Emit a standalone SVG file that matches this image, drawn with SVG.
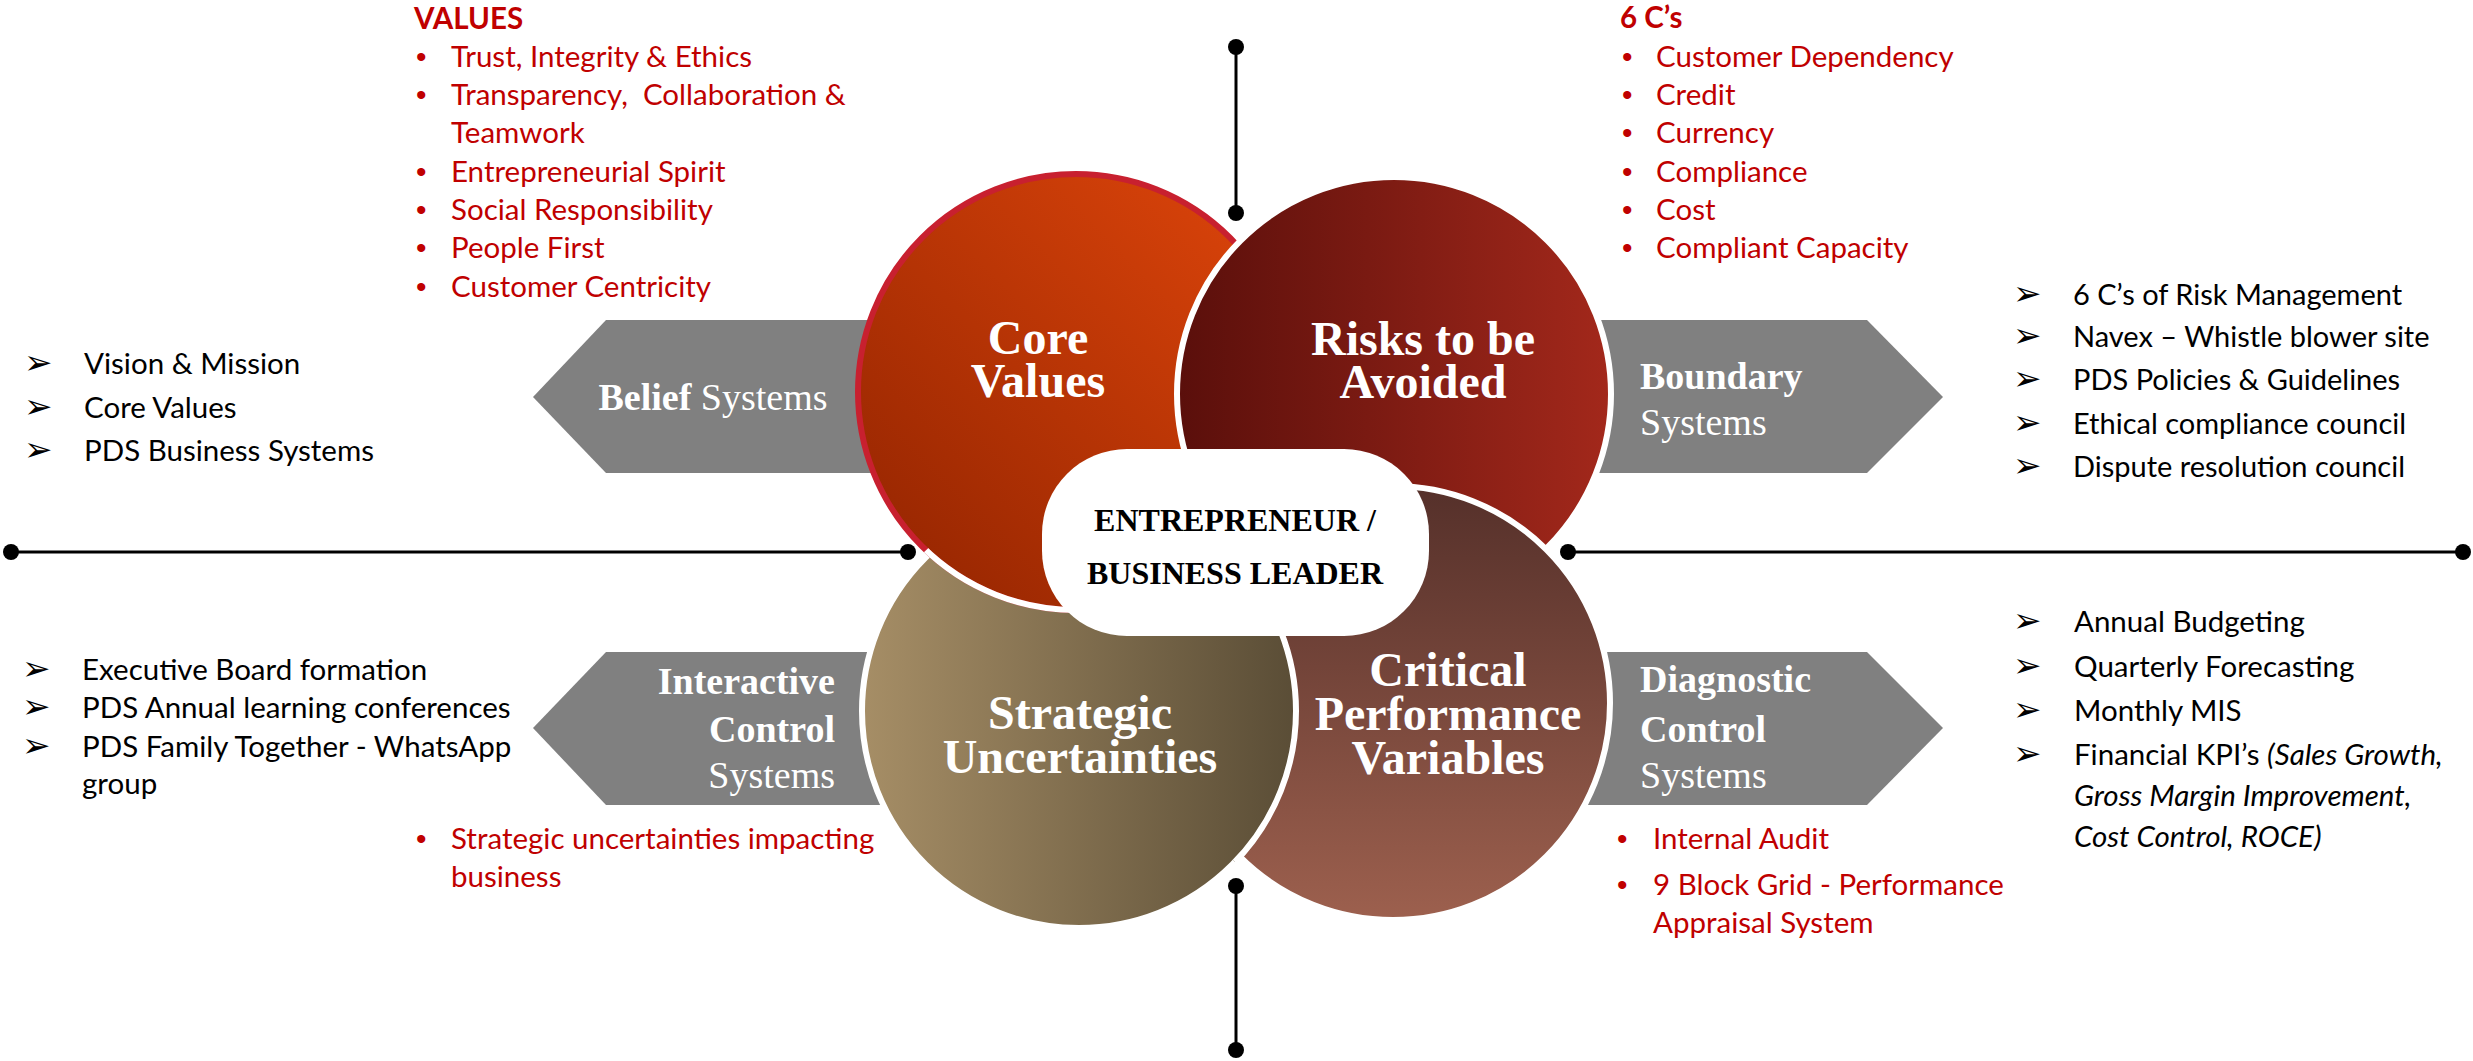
<svg xmlns="http://www.w3.org/2000/svg" width="2473" height="1061" viewBox="0 0 2473 1061">
<defs>
<style>
.list{font-family:Lato,"Liberation Sans",sans-serif;font-size:29.5px;fill:#000}
.blk{font-size:29px}
.red{fill:#c00000}
.bul{font-family:"DejaVu Sans",sans-serif;font-size:34px;fill:#000}
.dot{font-family:"Liberation Sans",sans-serif;font-size:30px;fill:#c00000}
.lbl{font-family:"Liberation Serif",serif;font-weight:bold;font-size:48px;fill:#fff;text-anchor:middle}
.arr{font-family:"Liberation Serif",serif;font-size:38px;fill:#fff}
.b{font-weight:bold}
.pilltxt{font-family:"Liberation Serif",serif;font-weight:bold;font-size:32px;fill:#000;text-anchor:middle}
.gray{fill:#808080}
.ring{stroke:#fff;stroke-width:6}
.axis{stroke:#000;stroke-width:3;fill:none}
.end{fill:#000}
</style>
<linearGradient id="gCore" x1="0" y1="1" x2="1" y2="0">
<stop offset="0" stop-color="#902300"/><stop offset="1" stop-color="#e0460b"/>
</linearGradient>
<linearGradient id="gRisk" x1="0" y1="0" x2="1" y2="0">
<stop offset="0" stop-color="#5a0f0b"/><stop offset="1" stop-color="#a3281b"/>
</linearGradient>
<linearGradient id="gStrat" x1="0" y1="0" x2="1" y2="0">
<stop offset="0" stop-color="#a68e66"/><stop offset="1" stop-color="#5a4d36"/>
</linearGradient>
<linearGradient id="gCrit" x1="0" y1="0" x2="0" y2="1">
<stop offset="0" stop-color="#55302a"/><stop offset="1" stop-color="#9d604e"/>
</linearGradient>
<clipPath id="inStrat"><circle cx="1079" cy="711" r="222"/></clipPath>
<clipPath id="inCrit"><circle cx="1393" cy="703" r="224"/></clipPath>
</defs>

<g id="belief-arrow"><polygon class="gray" points="533,397 606,320 960,320 960,473 606,473"/></g>
<g id="boundary-arrow"><polygon class="gray" points="1500,320 1867,320 1943,397 1867,473 1500,473"/></g>
<g id="interactive-arrow"><polygon class="gray" points="533,728 606,652 960,652 960,805 606,805"/></g>
<g id="diagnostic-arrow"><polygon class="gray" points="1500,652 1867,652 1943,728 1867,805 1500,805"/></g>

<g id="strategic-circle"><circle cx="1079" cy="711" r="217" fill="url(#gStrat)" class="ring"/></g>
<g id="core-circle">
<circle cx="1076" cy="392" r="218" fill="url(#gCore)" stroke="#c8202f" stroke-width="6"/>
<circle cx="1076" cy="392" r="218" fill="none" class="ring" clip-path="url(#inStrat)"/>
</g>
<g id="risks-circle"><circle cx="1394" cy="394" r="217" fill="url(#gRisk)" class="ring"/></g>
<g id="critical-circle"><circle cx="1393" cy="703" r="217" fill="url(#gCrit)" class="ring"/></g>
<g id="strategic-over"><circle cx="1079" cy="711" r="217" fill="url(#gStrat)" class="ring" clip-path="url(#inCrit)"/></g>

<g id="leader"><rect x="1042" y="449" width="387" height="187" rx="85" ry="85" fill="#fff"/>
<text class="pilltxt" x="1235" y="531">ENTREPRENEUR /</text>
<text class="pilltxt" x="1235" y="584">BUSINESS LEADER</text></g>

<g id="circle-labels">
<text class="lbl" x="1038" y="354">Core<tspan x="1038" dy="43">Values</tspan></text>
<text class="lbl" x="1423" y="355">Risks to be<tspan x="1423" dy="43">Avoided</tspan></text>
<text class="lbl" x="1080" y="729">Strategic<tspan x="1080" dy="44">Uncertainties</tspan></text>
<text class="lbl" x="1448" y="686">Critical<tspan x="1448" dy="44">Performance</tspan><tspan x="1448" dy="44">Variables</tspan></text>
</g>

<g id="arrow-labels">
<text class="arr" x="713" y="410" text-anchor="middle"><tspan class="b">Belief</tspan> Systems</text>
<text class="arr b" x="1640" y="389">Boundary</text>
<text class="arr" x="1640" y="435">Systems</text>
<text class="arr b" x="835" y="694" text-anchor="end">Interactive</text>
<text class="arr b" x="835" y="742" text-anchor="end">Control</text>
<text class="arr" x="835" y="788" text-anchor="end">Systems</text>
<text class="arr b" x="1640" y="692">Diagnostic</text>
<text class="arr b" x="1640" y="742">Control</text>
<text class="arr" x="1640" y="788">Systems</text>
</g>

<g id="values-list">
<text class="list red b" x="414" y="29">VALUES</text>
<text class="dot" x="416" y="67">•</text><text class="list red" x="451" y="67">Trust, Integrity &amp; Ethics</text>
<text class="dot" x="416" y="105">•</text><text class="list red" x="451" y="105" xml:space="preserve">Transparency,  Collaboration &amp;</text>
<text class="list red" x="451" y="143">Teamwork</text>
<text class="dot" x="416" y="182">•</text><text class="list red" x="451" y="182">Entrepreneurial Spirit</text>
<text class="dot" x="416" y="220">•</text><text class="list red" x="451" y="220">Social Responsibility</text>
<text class="dot" x="416" y="258">•</text><text class="list red" x="451" y="258">People First</text>
<text class="dot" x="416" y="297">•</text><text class="list red" x="451" y="297">Customer Centricity</text>
</g>

<g id="six-cs-list">
<text class="list red b" x="1620" y="28">6 C’s</text>
<text class="dot" x="1622" y="67">•</text><text class="list red" x="1656" y="67">Customer Dependency</text>
<text class="dot" x="1622" y="105">•</text><text class="list red" x="1656" y="105">Credit</text>
<text class="dot" x="1622" y="143">•</text><text class="list red" x="1656" y="143">Currency</text>
<text class="dot" x="1622" y="182">•</text><text class="list red" x="1656" y="182">Compliance</text>
<text class="dot" x="1622" y="220">•</text><text class="list red" x="1656" y="220">Cost</text>
<text class="dot" x="1622" y="258">•</text><text class="list red" x="1656" y="258">Compliant Capacity</text>
</g>

<g id="belief-list">
<text class="bul" x="24" y="374">➢</text><text class="list" x="84" y="374">Vision &amp; Mission</text>
<text class="bul" x="24" y="418">➢</text><text class="list" x="84" y="418">Core Values</text>
<text class="bul" x="24" y="461">➢</text><text class="list" x="84" y="461">PDS Business Systems</text>
</g>

<g id="boundary-list">
<text class="bul" x="2013" y="305">➢</text><text class="list blk" x="2073" y="305">6 C’s of Risk Management</text>
<text class="bul" x="2013" y="347">➢</text><text class="list blk" x="2073" y="347">Navex – Whistle blower site</text>
<text class="bul" x="2013" y="390">➢</text><text class="list blk" x="2073" y="390">PDS Policies &amp; Guidelines</text>
<text class="bul" x="2013" y="434">➢</text><text class="list blk" x="2073" y="434">Ethical compliance council</text>
<text class="bul" x="2013" y="477">➢</text><text class="list blk" x="2073" y="477">Dispute resolution council</text>
</g>

<g id="interactive-list">
<text class="bul" x="22" y="680">➢</text><text class="list" x="82" y="680">Executive Board formation</text>
<text class="bul" x="22" y="718">➢</text><text class="list" x="82" y="718">PDS Annual learning conferences</text>
<text class="bul" x="22" y="757">➢</text><text class="list" x="82" y="757">PDS Family Together - WhatsApp</text>
<text class="list" x="82" y="794">group</text>
</g>

<g id="strategic-list">
<text class="dot" x="416" y="849">•</text><text class="list red" x="451" y="849">Strategic uncertainties impacting</text>
<text class="list red" x="451" y="887">business</text>
</g>

<g id="diagnostic-red-list">
<text class="dot" x="1617" y="849">•</text><text class="list red" x="1653" y="849">Internal Audit</text>
<text class="dot" x="1617" y="895">•</text><text class="list red" x="1653" y="895">9 Block Grid - Performance</text>
<text class="list red" x="1653" y="933">Appraisal System</text>
</g>

<g id="diagnostic-list">
<text class="bul" x="2013" y="632">➢</text><text class="list" x="2074" y="632">Annual Budgeting</text>
<text class="bul" x="2013" y="677">➢</text><text class="list" x="2074" y="677">Quarterly Forecasting</text>
<text class="bul" x="2013" y="721">➢</text><text class="list" x="2074" y="721">Monthly MIS</text>
<text class="bul" x="2013" y="765">➢</text><text class="list" x="2074" y="765">Financial KPI’s <tspan font-style="italic">(Sales Growth,</tspan></text>
<text class="list" x="2074" y="806" font-style="italic">Gross Margin Improvement,</text>
<text class="list" x="2074" y="847" font-style="italic">Cost Control, ROCE)</text>
</g>

<g id="connectors">
<line class="axis" x1="11" y1="552" x2="908" y2="552"/>
<circle class="end" cx="11" cy="552" r="8"/><circle class="end" cx="908" cy="552" r="8"/>
<line class="axis" x1="1568" y1="552" x2="2463" y2="552"/>
<circle class="end" cx="1568" cy="552" r="8"/><circle class="end" cx="2463" cy="552" r="8"/>
<line class="axis" x1="1236" y1="47" x2="1236" y2="213"/>
<circle class="end" cx="1236" cy="47" r="8"/><circle class="end" cx="1236" cy="213" r="8"/>
<line class="axis" x1="1236" y1="886" x2="1236" y2="1050"/>
<circle class="end" cx="1236" cy="886" r="8"/><circle class="end" cx="1236" cy="1050" r="8"/>
</g>
</svg>
